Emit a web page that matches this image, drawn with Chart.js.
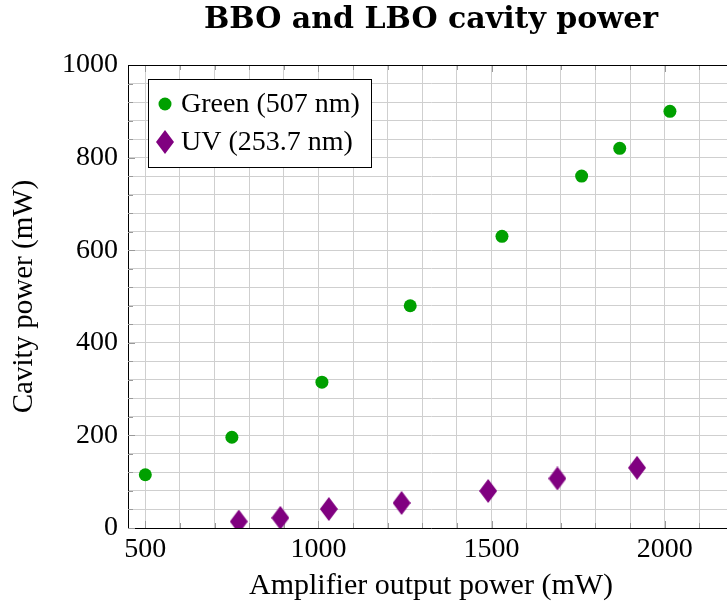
<!DOCTYPE html>
<html>
<head>
<meta charset="utf-8">
<script src="https://cdn.jsdelivr.net/npm/chart.js@4.4.1/dist/chart.umd.min.js"></script>
<style>
html,body{margin:0;padding:0;background:#fff;overflow:hidden;width:727px;height:607px;}
canvas{display:block;}
</style>
</head>
<body>
<canvas id="c" width="745" height="607"></canvas>
<script>
// ---- data ----
const greenX = [500, 750, 1010, 1265, 1530, 1760, 1870, 2015];
const greenY = [115, 196, 315, 480, 630, 760, 820, 900];
const uvX = [770, 890, 1030, 1240, 1490, 1690, 1920];
const uvY = [14, 22, 41, 54, 80, 107, 130];
const seriesLabels = ['Green (507 nm)', 'UV (253.7 nm)'];
const titleText = 'BBO and LBO cavity power';
const xTitle = 'Amplifier output power (mW)';
const yTitle = 'Cavity power (mW)';
const xMajor = 500, xMinor = 100, yMajor = 200, yMinor = 40;

const GREEN = '#00a000', PURPLE = '#800080';
const SERIF = '"Liberation Serif", "Times New Roman", serif';

// tall diamond marker
const dia = document.createElement('canvas');
dia.width = 18; dia.height = 24;
(function(){const g = dia.getContext('2d'); g.fillStyle = PURPLE; g.beginPath();
 g.moveTo(9,0); g.lineTo(18,12); g.lineTo(9,24); g.lineTo(0,12); g.closePath(); g.fill();})();

const pts = (xs, ys) => xs.map((x, i) => ({x: x, y: ys[i]}));

function stepTicks(s, step) {
  const out = [];
  for (let v = Math.ceil(s.min / step) * step; v <= s.max + 1e-9; v += step) out.push({value: v});
  s.ticks = out;
}

const decor = {
  id: 'decor',
  beforeDatasetsDraw(chart) {
    const {ctx, chartArea: a, scales: {x, y}} = chart;
    ctx.save();
    ctx.strokeStyle = '#9a9a9a'; ctx.lineWidth = 1;
    x.ticks.forEach(t => {
      const px = Math.round(x.getPixelForValue(t.value)) + 0.5;
      const L = (t.value % xMajor === 0) ? 7 : 5;
      ctx.beginPath(); ctx.moveTo(px, a.bottom); ctx.lineTo(px, a.bottom - L);
      ctx.moveTo(px, a.top); ctx.lineTo(px, a.top + L); ctx.stroke();
    });
    y.ticks.forEach(t => {
      const py = Math.round(y.getPixelForValue(t.value)) + 0.5;
      const L = (t.value % yMajor === 0) ? 7 : 5;
      ctx.beginPath(); ctx.moveTo(a.left, py); ctx.lineTo(a.left + L, py);
      ctx.moveTo(a.right, py); ctx.lineTo(a.right - L, py); ctx.stroke();
    });
    ctx.strokeStyle = '#000';
    ctx.beginPath(); ctx.moveTo(a.left, Math.round(a.top) + 0.5); ctx.lineTo(a.right, Math.round(a.top) + 0.5); ctx.stroke();
    ctx.restore();
  },
  afterDraw(chart) {
    const {ctx, chartArea: a} = chart;
    ctx.save();
    const bx = a.left + 20, by = a.top + 14, bw = 223, bh = 88;
    ctx.fillStyle = '#fff'; ctx.fillRect(bx, by, bw, bh);
    ctx.strokeStyle = '#000'; ctx.lineWidth = 1;
    ctx.strokeRect(bx + 0.5, by + 0.5, bw, bh);
    ctx.font = '28px ' + SERIF; ctx.fillStyle = '#000'; ctx.textBaseline = 'middle';
    const ds = chart.data.datasets;
    let cy = by + 25;
    ctx.fillStyle = GREEN; ctx.beginPath(); ctx.arc(bx + 17, cy, 6.5, 0, Math.PI * 2); ctx.fill();
    ctx.fillStyle = '#000'; ctx.fillText(ds[0].label, bx + 33, cy + 1);
    cy = by + 63;
    ctx.drawImage(dia, bx + 17 - 9, cy - 12);
    ctx.fillStyle = '#000'; ctx.fillText(ds[1].label, bx + 33, cy + 1);
    ctx.restore();
  }
};

new Chart(document.getElementById('c'), {
  type: 'scatter',
  data: {
    datasets: [
      {label: seriesLabels[0], data: pts(greenX, greenY), backgroundColor: GREEN, borderColor: GREEN,
       pointStyle: 'circle', pointRadius: 6.5, pointBorderWidth: 0, pointHoverRadius: 6.5},
      {label: seriesLabels[1], data: pts(uvX, uvY), backgroundColor: PURPLE, borderColor: PURPLE,
       pointStyle: dia, pointRadius: 10, pointHoverRadius: 10}
    ]
  },
  options: {
    responsive: false, animation: false, devicePixelRatio: 1,
    layout: {padding: {left: 0, right: 7, top: 0, bottom: 0}},
    plugins: {
      legend: {display: false}, tooltip: {enabled: false},
      title: {display: true, fullSize: false, text: titleText, color: '#000',
        font: {family: '"DejaVu Serif", serif', size: 30, weight: 'bold', lineHeight: 1.2},
        padding: {top: 2, bottom: 27}}
    },
    scales: {
      x: {
        type: 'linear', min: 450, max: 2200,
        afterBuildTicks(s) { stepTicks(s, xMinor); },
        afterFit(s) { s.height = 79; },
        ticks: {autoSkip: false, maxRotation: 0, color: '#000', padding: 5,
          font: {family: SERIF, size: 28},
          callback: v => (v % xMajor === 0 ? String(v) : '')},
        grid: {color: '#cfcfcf', lineWidth: 1, drawTicks: false},
        border: {display: true, color: '#000', width: 1},
        title: {display: true, text: xTitle, color: '#000', font: {family: SERIF, size: 30, lineHeight: 1.2},
          padding: {top: 0, bottom: 3}}
      },
      y: {
        type: 'linear', min: 0, max: 1000,
        afterBuildTicks(s) { stepTicks(s, yMinor); },
        afterFit(s) { s.width = 128; },
        ticks: {autoSkip: false, color: '#000', padding: 10,
          font: {family: SERIF, size: 28},
          callback: v => (v % yMajor === 0 ? String(v) : '')},
        grid: {color: '#cfcfcf', lineWidth: 1, drawTicks: false},
        border: {display: true, color: '#000', width: 1},
        title: {display: true, text: yTitle, color: '#000', font: {family: SERIF, size: 29, lineHeight: 1.2},
          padding: {top: 7, bottom: 0}}
      }
    }
  },
  plugins: [decor]
});
</script>
</body>
</html>
